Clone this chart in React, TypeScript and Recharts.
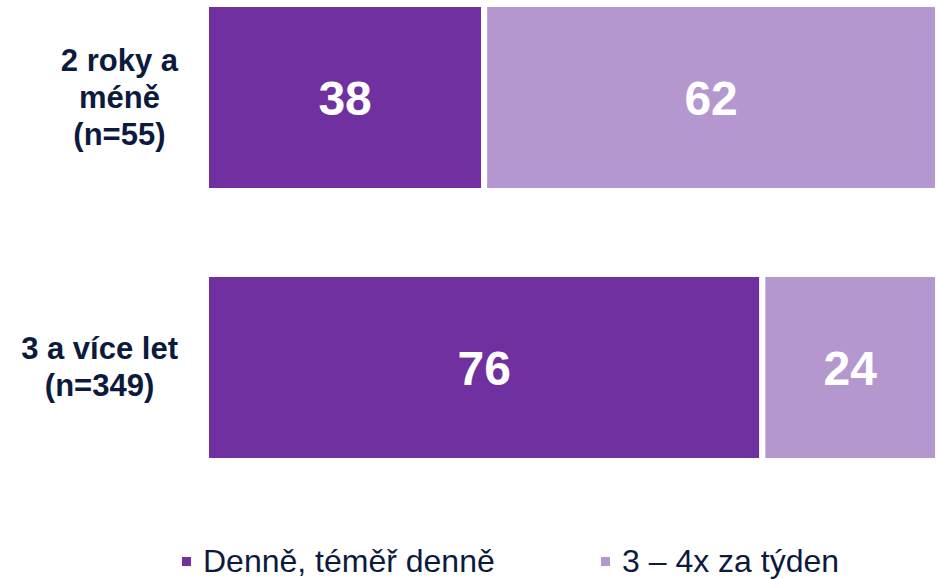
import { BarChart, Bar, XAxis, YAxis, Legend, LabelList } from 'recharts';

const categories = ['2 roky a méně (n=55)', '3 a více let (n=349)'];
const categoryLines = [['2 roky a', 'méně', '(n=55)'], ['3 a více let', '(n=349)']];
const daily = [38, 76];
const weekly = [62, 24];
const seriesNames = ['Denně, téměř denně', '3 – 4x za týden'];
const colors = ['#7030A0', '#B497CE'];

const data = categories.map((name, i) => ({ name, daily: daily[i], weekly: weekly[i] }));

const NAVY = '#0B1A3D';
const LABEL_FONT = 'bold 31px "Liberation Sans", Arial, sans-serif';

let ctx: CanvasRenderingContext2D | null = null;
const measure = (s: string) => {
  if (!ctx) ctx = document.createElement('canvas').getContext('2d');
  if (!ctx) return s.length * 16;
  ctx.font = LABEL_FONT;
  return ctx.measureText(s).width;
};

const CategoryTick = ({ x, y, payload }: any) => {
  const idx = categories.indexOf(payload.value);
  const lines = categoryLines[idx] || [payload.value];
  const maxW = Math.max(...lines.map(measure));
  const cx = x - 20 - maxW / 2;
  return (
    <text x={cx} y={y} textAnchor="middle" fill={NAVY}
      style={{ font: LABEL_FONT }}>
      {lines.map((l, i) => (
        <tspan key={i} x={cx} y={y + (i - (lines.length - 1) / 2) * 37} dominantBaseline="central">{l}</tspan>
      ))}
    </text>
  );
};

const LegendContent = () => (
  <div style={{ position: 'relative', height: 40, fontFamily: '"Liberation Sans", Arial, sans-serif', fontSize: 32, color: NAVY }}>
    {seriesNames.map((n, i) => (
      <div key={n} style={{ position: 'absolute', left: i === 0 ? 182 : 601, top: 0, display: 'flex', alignItems: 'center', whiteSpace: 'nowrap' }}>
        <span style={{ width: 9, height: 9, background: colors[i], display: 'inline-block', marginRight: 12 }} />
        <span>{n}</span>
      </div>
    ))}
  </div>
);

export default function App() {
  return (
    <div style={{ position: 'absolute', left: 0, top: 0, width: 936, height: 579, background: '#fff' }}>
      <BarChart width={936} height={579} data={data} layout="vertical"
        margin={{ top: -38, right: -2, bottom: 37, left: 0 }} barSize={187}>
        <XAxis type="number" domain={[0, 100]} hide />
        <YAxis type="category" dataKey="name" width={206} axisLine={false} tickLine={false} tick={<CategoryTick />} interval={0} />
        <Legend verticalAlign="bottom" content={<LegendContent />}
          wrapperStyle={{ left: 0, top: 543, width: 936, height: 40 }} />
        <Bar dataKey="daily" name={seriesNames[0]} stackId="a" fill={colors[0]} stroke="#fff" strokeWidth={6} isAnimationActive={false}>
          <LabelList dataKey="daily" position="center" fill="#fff" style={{ font: 'bold 48px "Liberation Sans", Arial, sans-serif' }} />
        </Bar>
        <Bar dataKey="weekly" name={seriesNames[1]} stackId="a" fill={colors[1]} stroke="#fff" strokeWidth={6} isAnimationActive={false}>
          <LabelList dataKey="weekly" position="center" fill="#fff" style={{ font: 'bold 48px "Liberation Sans", Arial, sans-serif' }} />
        </Bar>
      </BarChart>
    </div>
  );
}
